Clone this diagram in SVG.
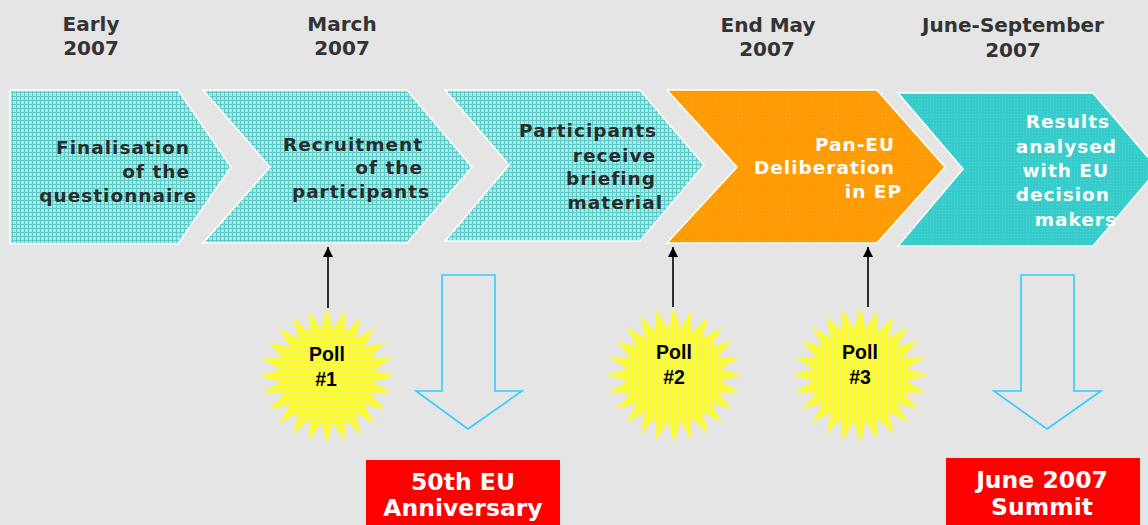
<svg xmlns="http://www.w3.org/2000/svg" width="1148" height="525" viewBox="0 0 1148 525">
<style>
.hdr{font-family:"DejaVu Sans",Verdana,sans-serif;font-weight:bold;font-size:20px;fill:#333333;text-anchor:middle}
.ct{font-family:"DejaVu Sans",Verdana,sans-serif;font-weight:bold;font-size:18.5px;letter-spacing:1px;fill:#2b2b2b;text-anchor:end}
.cw{font-family:"DejaVu Sans",Verdana,sans-serif;font-weight:bold;font-size:18.5px;letter-spacing:1px;fill:#ffffff;text-anchor:end}
.poll{font-family:"Liberation Sans",Arial,sans-serif;font-weight:bold;font-size:19.5px;fill:#000000;text-anchor:middle}
.rt{font-family:"DejaVu Sans",Verdana,sans-serif;font-weight:bold;font-size:23.5px;fill:#ffffff;text-anchor:middle}
.chev{stroke:#ffffff;stroke-width:1.5}
.blk{fill:none;stroke:#33ccff;stroke-width:1.6}
.conn{stroke:#000000;stroke-width:1.6;fill:none}
</style>
<defs>
<pattern id="gridc" width="4" height="4" patternUnits="userSpaceOnUse">
<rect width="4" height="4" fill="#ade7e5"/>
<rect width="4" height="1" fill="#5ccac6"/>
<rect width="1" height="4" fill="#5ccac6"/>
</pattern>
<pattern id="gridy" width="4" height="4" patternUnits="userSpaceOnUse">
<rect width="4" height="4" fill="#ffff10"/>
<rect width="4" height="1" fill="#f4f470"/>
<rect width="1" height="4" fill="#f4f470"/>
</pattern>
<pattern id="doto" width="3" height="3" patternUnits="userSpaceOnUse">
<rect width="3" height="3" fill="#ff9a00"/>
<rect width="1" height="1" fill="#ffaa2a"/>
</pattern>
<pattern id="dott" width="3" height="3" patternUnits="userSpaceOnUse">
<rect width="3" height="3" fill="#36cccb"/>
<rect width="1" height="1" fill="#55d4d3"/>
</pattern>
<polygon id="star" points="0,-68 6.13,-46.6 17.6,-65.68 17.99,-43.42 34,-58.89 28.61,-37.29 48.08,-48.08 37.29,-28.61 58.89,-34 43.42,-17.99 65.68,-17.6 46.6,-6.13 68,0 46.6,6.13 65.68,17.6 43.42,17.99 58.89,34 37.29,28.61 48.08,48.08 28.61,37.29 34,58.89 17.99,43.42 17.6,65.68 6.13,46.6 0,68 -6.13,46.6 -17.6,65.68 -17.99,43.42 -34,58.89 -28.61,37.29 -48.08,48.08 -37.29,28.61 -58.89,34 -43.42,17.99 -65.68,17.6 -46.6,6.13 -68,0 -46.6,-6.13 -65.68,-17.6 -43.42,-17.99 -58.89,-34 -37.29,-28.61 -48.08,-48.08 -28.61,-37.29 -34,-58.89 -17.99,-43.42 -17.6,-65.68 -6.13,-46.6"/>
<marker id="ah" viewBox="0 0 10 10" refX="10" refY="5" markerWidth="10" markerHeight="10" markerUnits="userSpaceOnUse" orient="auto">
<path d="M0,0 L10,5 L0,10 Z" fill="#000000"/>
</marker>
</defs>
<rect width="1148" height="525" fill="#e5e5e5"/>

<g id="headers">
<text class="hdr" x="91" y="31">Early</text>
<text class="hdr" x="91" y="55">2007</text>
<text class="hdr" x="342" y="31">March</text>
<text class="hdr" x="342" y="55">2007</text>
<text class="hdr" x="768" y="32">End May</text>
<text class="hdr" x="767" y="56">2007</text>
<text class="hdr" x="1013" y="32">June-September</text>
<text class="hdr" x="1013" y="57">2007</text>
</g>

<g id="step1">
<polygon class="chev" fill="url(#gridc)" points="10,90 178,90 231,167 178,244 10,244"/>
<text class="ct" x="190" y="154">Finalisation</text>
<text class="ct" x="190" y="178">of the</text>
<text class="ct" x="197" y="202">questionnaire</text>
</g>
<g id="step2">
<polygon class="chev" fill="url(#gridc)" points="203,90 407,90 472,167 407,243 203,243 270,167"/>
<text class="ct" x="423" y="151">Recruitment</text>
<text class="ct" x="423" y="174">of the</text>
<text class="ct" x="430" y="198">participants</text>
</g>
<g id="step3">
<polygon class="chev" fill="url(#gridc)" points="445,90 640,90 704,165 640,241 445,241 509,165"/>
<text class="ct" x="657" y="137">Participants</text>
<text class="ct" x="656" y="162">receive</text>
<text class="ct" x="656" y="185">briefing</text>
<text class="ct" x="663" y="209">material</text>
</g>
<g id="step4">
<polygon class="chev" fill="url(#doto)" points="667,90 877,90 945,167 877,243 667,243 737,167"/>
<text class="cw" x="895" y="151">Pan-EU</text>
<text class="cw" x="895" y="174">Deliberation</text>
<text class="cw" x="902" y="198">in EP</text>
</g>
<g id="step5">
<polygon class="chev" fill="url(#dott)" points="898,93 1093,93 1158,169 1093,246 898,246 963,169"/>
<text class="cw" x="1110" y="128">Results</text>
<text class="cw" x="1117" y="153">analysed</text>
<text class="cw" x="1109" y="177">with EU</text>
<text class="cw" x="1110" y="201">decision</text>
<text class="cw" x="1117" y="226">makers</text>
</g>

<g id="poll1">
<use href="#star" x="327" y="376" fill="url(#gridy)"/>
<text class="poll" x="327" y="361">Poll</text>
<text class="poll" x="326" y="386">#1</text>
</g>
<g id="poll2">
<use href="#star" x="674" y="375" fill="url(#gridy)"/>
<text class="poll" x="674" y="359">Poll</text>
<text class="poll" x="674" y="384">#2</text>
</g>
<g id="poll3">
<use href="#star" x="860" y="375" fill="url(#gridy)"/>
<text class="poll" x="860" y="359">Poll</text>
<text class="poll" x="860" y="384">#3</text>
</g>

<g id="event1">
<rect x="366" y="460" width="194" height="65" fill="#ff0000"/>
<text class="rt" x="463" y="490">50th EU</text>
<text class="rt" x="463" y="516">Anniversary</text>
</g>
<g id="event2">
<rect x="946" y="458" width="194" height="67" fill="#ff0000"/>
<text class="rt" x="1042" y="488">June 2007</text>
<text class="rt" x="1042" y="515">Summit</text>
</g>

<g id="connectors">
<line class="conn" x1="328" y1="308" x2="328" y2="247" marker-end="url(#ah)"/>
<line class="conn" x1="673" y1="307" x2="673" y2="247" marker-end="url(#ah)"/>
<line class="conn" x1="868" y1="307" x2="868" y2="247" marker-end="url(#ah)"/>
<polygon class="blk" points="442,275 495,275 495,391 522,391 468,429 416,391 442,391"/>
<polygon class="blk" points="1021,275 1074,275 1074,391 1101,391 1047,429 994,391 1021,391"/>
</g>
</svg>
